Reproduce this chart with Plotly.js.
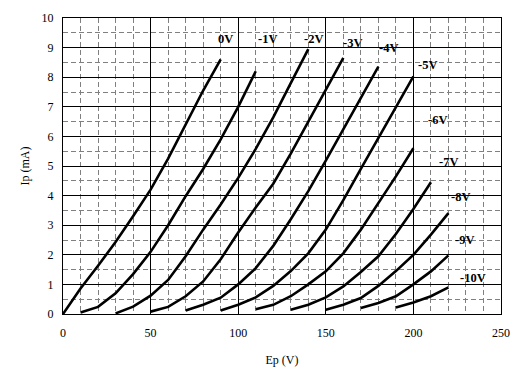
<!DOCTYPE html>
<html><head><meta charset="utf-8">
<script src="https://cdn.plot.ly/plotly-3.0.1.min.js"></script>
<style>html,body{margin:0;padding:0;background:#fff}#plot{width:523px;height:374px}</style>
</head><body><div id="plot"></div>
<script>
// Plate voltage (V) and plate current (mA) for each grid voltage
const ep_0V   = [0,10,20,30,40,50,60,70,80,90];
const ip_0V   = [0,0.86,1.63,2.43,3.3,4.2,5.25,6.4,7.55,8.6];
const ep_1V   = [10,20,30,40,50,60,70,80,90,100,110];
const ip_1V   = [0.05,0.24,0.7,1.35,2.1,3.0,3.98,4.9,5.9,7.0,8.2];
const ep_2V   = [30,40,50,60,70,80,90,100,110,120,130,140];
const ip_2V   = [0.02,0.25,0.62,1.15,1.95,2.85,3.7,4.6,5.58,6.64,7.8,8.95];
const ep_3V   = [50,60,70,80,90,100,110,120,130,140,150,160];
const ip_3V   = [0.08,0.24,0.6,1.1,1.85,2.75,3.6,4.4,5.42,6.5,7.58,8.65];
const ep_4V   = [70,80,90,100,110,120,130,140,150,160,170,180];
const ip_4V   = [0.12,0.31,0.55,1.0,1.55,2.3,3.2,4.15,5.18,6.24,7.3,8.36];
const ep_5V   = [90,100,110,120,130,140,150,160,170,180,190,200];
const ip_5V   = [0.12,0.31,0.56,0.95,1.45,2.05,2.85,3.85,4.9,5.95,7.0,8.03];
const ep_6V   = [110,120,130,140,150,160,170,180,190,200];
const ip_6V   = [0.16,0.31,0.6,1.0,1.44,2.05,2.85,3.75,4.65,5.6];
const ep_7V   = [130,140,150,160,170,180,190,200,210];
const ip_7V   = [0.14,0.31,0.56,0.93,1.42,1.95,2.7,3.55,4.45];
const ep_8V   = [150,160,170,180,190,200,210,220];
const ip_8V   = [0.14,0.31,0.54,0.95,1.45,2.0,2.68,3.41];
const ep_9V   = [170,180,190,200,210,220];
const ip_9V   = [0.2,0.37,0.6,1.0,1.44,1.98];
const ep_10V  = [190,200,210,220];
const ip_10V  = [0.22,0.39,0.6,0.9];

const curveLabels = ["0V","-1V","-2V","-3V","-4V","-5V","-6V","-7V","-8V","-9V","-10V"];
const labelEp = [92.5,117,143,165,186,208,214,220,227,229,234];
const labelIp = [9.3,9.3,9.3,9.15,9.0,8.4,6.55,5.15,3.95,2.5,1.2];

const xTicks = [0,50,100,150,200,250];
const yTicks = [0,1,2,3,4,5,6,7,8,9,10];

const series = [
  [ep_0V,ip_0V],[ep_1V,ip_1V],[ep_2V,ip_2V],[ep_3V,ip_3V],[ep_4V,ip_4V],[ep_5V,ip_5V],
  [ep_6V,ip_6V],[ep_7V,ip_7V],[ep_8V,ip_8V],[ep_9V,ip_9V],[ep_10V,ip_10V]
];
const traces = series.map((s,k)=>({
  x:s[0], y:s[1], type:'scatter', mode:'lines', name:curveLabels[k],
  line:{color:'#000', width:2.6}, hoverinfo:'skip'
}));

const fontSerif = 'Liberation Serif, Times New Roman, serif';
const annotations = curveLabels.map((t,k)=>({
  x:labelEp[k], y:labelIp[k], xref:'x', yref:'y', text:'<b>'+t+'</b>',
  showarrow:false, xanchor:'center', yanchor:'middle',
  font:{family:fontSerif, size:12.5, color:'#000'}
}));

const layout = {
  width:523, height:374,
  margin:{l:63, r:22, t:18, b:60},
  paper_bgcolor:'#fff', plot_bgcolor:'#fff',
  showlegend:false,
  font:{family:fontSerif, size:12, color:'#000'},
  xaxis:{
    range:[0,250], tickvals:xTicks, ticktext:xTicks.map(String),
    showgrid:true, gridcolor:'#000', gridwidth:1,
    minor:{dtick:10, tick0:0, showgrid:true, gridcolor:'#808080', griddash:'5px,3px', gridwidth:1, ticks:''},
    showline:true, mirror:true, linecolor:'#000', linewidth:1,
    ticks:'', zeroline:false, ticklabelstandoff:8,
    title:{text:'Ep (V)', font:{family:fontSerif, size:12}, standoff:16},
    tickfont:{family:fontSerif, size:12}
  },
  yaxis:{
    range:[0,10], tickvals:yTicks, ticktext:yTicks.map(String),
    showgrid:true, gridcolor:'#000', gridwidth:1,
    minor:{dtick:0.5, tick0:0, showgrid:true, gridcolor:'#808080', griddash:'5px,3px', gridwidth:1, ticks:''},
    showline:true, mirror:true, linecolor:'#000', linewidth:1,
    ticks:'', zeroline:false, ticklabelstandoff:6,
    title:{text:'Ip (mA)', font:{family:fontSerif, size:12}, standoff:9},
    tickfont:{family:fontSerif, size:12}
  },
  annotations:annotations
};

Plotly.newPlot('plot', traces, layout, {staticPlot:true, displayModeBar:false});
</script></body></html>
